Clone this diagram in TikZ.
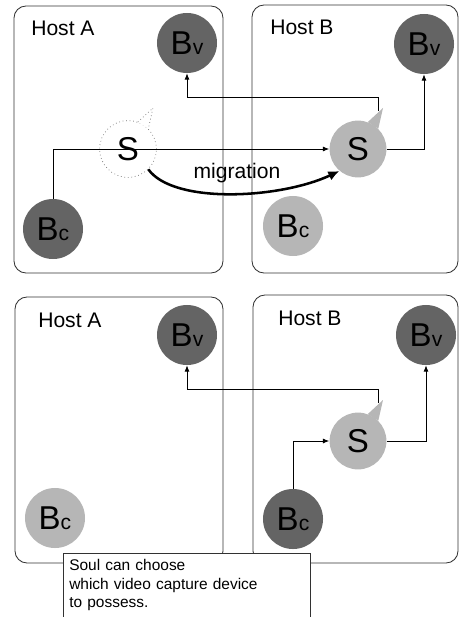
\documentclass[tikz,border=0pt]{standalone}
\usepackage{fontspec}
\setmainfont{Liberation Sans}
\usepackage{tikz}
\usetikzlibrary{arrows.meta, calc}
\definecolor{balldark}{RGB}{100,100,100}
\definecolor{balllight}{RGB}{182,182,182}
\definecolor{hostframe}{RGB}{50,50,50}
\definecolor{ghostline}{RGB}{110,110,110}
\tikzset{
  host/.style={draw=hostframe,line width=0.6pt,rounded corners=0.3cm},
  hostlabel/.style={anchor=west,inner sep=0pt,font=\fontsize{15}{16}\selectfont},
  ball/.style={circle,minimum size=1.5cm,inner sep=0pt,font=\fontsize{23.5}{24}\selectfont},
  darkball/.style={ball,fill=balldark},
  lightball/.style={ball,fill=balllight},
  soul/.style={ball,minimum size=1.42cm,fill=balllight},
  ghostsoul/.style={ball,minimum size=1.42cm,fill=white,draw=ghostline,dotted,line width=0.5pt},
  soulname/.style={font=\fontsize{23.5}{24}\selectfont},
  conn/.style={-{Latex[length=4.5pt,width=3.5pt]},line width=0.6pt,color=black},
  migr/.style={-{Latex[length=8pt,width=7pt]},line width=1.8pt,color=black},
  note/.style={anchor=north west,fill=white,align=left,inner xsep=0.15cm,
    minimum height=1.6cm,text width=5.875cm,font=\fontsize{11}{13.2}\selectfont},
  notebox/.style={line width=0.6pt,color=hostframe}
}
\newcommand{\bsub}[1]{B{\fontsize{15}{16}\selectfont #1}}
\newcommand{\soultail}[2]{\fill[#2] (#1.70) -- ($(#1)+(25,-41)$) -- (#1.45) -- cycle;}

\begin{document}
\begin{tikzpicture}[x=0.025cm,y=-0.025cm]
  \useasboundingbox (0,0) rectangle (459,617);

  % Hosts (top: before migration)
  \draw[host] (14,6) rectangle (223,273);
  \draw[host] (252,5) rectangle (458,273);
  \node[hostlabel] (hostA1) at (31,28) {Host A};
  \node[hostlabel] (hostB1) at (270,27) {Host B};

  % Hosts (bottom: after migration)
  \draw[host] (15,297) rectangle (223,563);
  \draw[host] (253,295) rectangle (458,563);
  \node[hostlabel] (hostA2) at (38,320) {Host A};
  \node[hostlabel] (hostB2) at (278,318) {Host B};

  % Bodies and souls (top)
  \node[darkball] (bvA1) at (187,43) {\bsub{v}};
  \node[darkball] (bcA1) at (53,229) {\bsub{c}};
  \node[darkball] (bvB1) at (424,44) {\bsub{v}};
  \node[lightball] (bcB1) at (293,226) {\bsub{c}};
  \node[ghostsoul] (sA1) at (128,149) {};
  \soultail{sA1}{white}
  \draw[ghostline,dotted,line width=0.5pt] (sA1.70) -- ($(sA1)+(25,-41)$) -- (sA1.45);
  \node[soulname] at (sA1) {S};
  \node[soul] (sB1) at (358,149) {};
  \soultail{sB1}{balllight}
  \node[soulname] at (sB1) {S};
  \coordinate (tipB1) at ($(sB1)+(20,-38)$);

  % Bodies and souls (bottom)
  \node[darkball] (bvA2) at (187,335) {\bsub{v}};
  \node[lightball] (bcA2) at (55,518) {\bsub{c}};
  \node[darkball] (bvB2) at (426,335) {\bsub{v}};
  \node[darkball] (bcB2) at (293,519) {\bsub{c}};
  \node[soul] (sB2) at (358,441) {};
  \soultail{sB2}{balllight}
  \node[soulname] at (sB2) {S};
  \coordinate (tipB2) at ($(sB2)+(20,-38)$);

  % Connections
  \draw[conn] (bcA1) |- (sB1);
  \draw[conn] (sB1) -| (bvB1);
  \draw[conn] (tipB1) -- ++(0,-14) -| (bvA1);
  \draw[conn] (bcB2) |- (sB2);
  \draw[conn] (sB2) -| (bvB2);
  \draw[conn] (tipB2) -- ++(0,-14) -| (bvA2);

  % Migration
  \draw[migr] (sA1.-45) .. controls +(25,35) and +(-60,28) .. (sB1.-130);
  \node[font=\fontsize{15}{16}\selectfont] (migration) at (237,173) {migration};

  % Note
  \node[note] (note) at (63,553) {Soul can choose\\which video capture device\\to possess.};
  \draw[notebox] (note.south west) |- (note.north east) -- (note.south east);
\end{tikzpicture}
\end{document}
